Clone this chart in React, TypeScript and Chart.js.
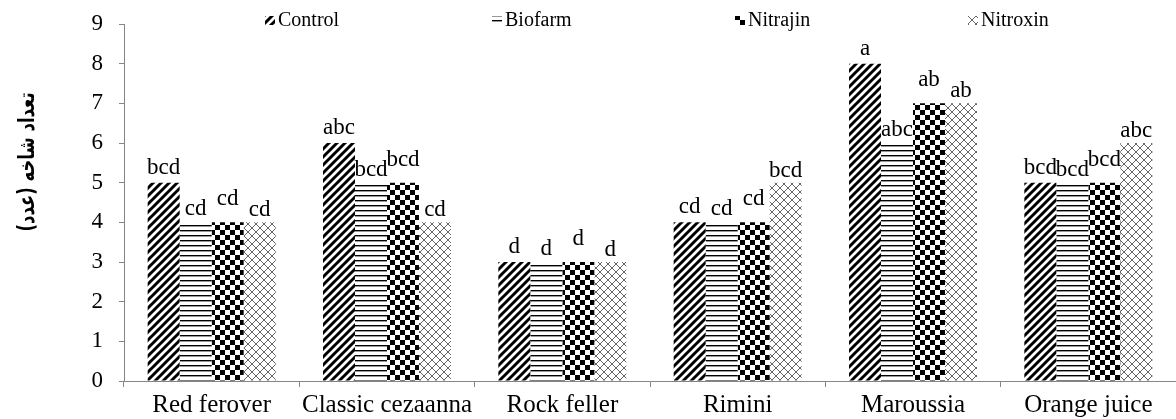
import React, { useEffect, useRef } from "react";
import { Chart, registerables } from "chart.js";

Chart.register(...registerables);

const categories = ["Red ferover", "Classic cezaanna", "Rock feller", "Rimini", "Maroussia", "Orange juice"];
const seriesNames = ["Control", "Biofarm", "Nitrajin", "Nitroxin"];

const controlValues = [5, 6, 3, 4, 8, 5];
const biofarmValues = [4, 5, 3, 4, 6, 5];
const nitrajinValues = [4, 5, 3, 4, 7, 5];
const nitroxinValues = [4, 4, 3, 5, 7, 6];

const controlLetters = ["bcd", "abc", "d", "cd", "a", "bcd"];
const biofarmLetters = ["cd", "bcd", "d", "cd", "abc", "bcd"];
const nitrajinLetters = ["cd", "bcd", "d", "cd", "ab", "bcd"];
const nitroxinLetters = ["cd", "cd", "d", "bcd", "ab", "abc"];

const yTicks = [0, 1, 2, 3, 4, 5, 6, 7, 8, 9];
const yTitle = "تعداد شاخه (عدد)";

const SERIF = '"Liberation Serif", "Times New Roman", serif';

function makeTile(w: number, h: number, draw: (c: CanvasRenderingContext2D) => void): CanvasPattern {
  const cv = document.createElement("canvas");
  cv.width = w;
  cv.height = h;
  const c = cv.getContext("2d")!;
  c.fillStyle = "#fff";
  c.fillRect(0, 0, w, h);
  draw(c);
  const tmp = document.createElement("canvas").getContext("2d")!;
  return tmp.createPattern(cv, "repeat")!;
}

function diagPattern(): CanvasPattern {
  const s = 8;
  return makeTile(s, s, (c) => {
    c.strokeStyle = "#000";
    c.lineWidth = 3;
    c.beginPath();
    for (const k of [0, s, 2 * s]) {
      c.moveTo(k + 1, -1);
      c.lineTo(k - s - 1, s + 1);
    }
    c.stroke();
  });
}

function horizPattern(): CanvasPattern {
  return makeTile(4, 5, (c) => {
    c.fillStyle = "#000";
    c.fillRect(0, 0, 4, 1);
    c.fillStyle = "#999";
    c.fillRect(0, 1, 4, 1);
  });
}

function checkerPattern(): CanvasPattern {
  return makeTile(10, 10, (c) => {
    c.fillStyle = "#000";
    c.fillRect(0, 0, 5, 5);
    c.fillRect(5, 5, 5, 5);
  });
}

function crossPattern(): CanvasPattern {
  const s = 8;
  return makeTile(s, s, (c) => {
    c.strokeStyle = "#666";
    c.lineWidth = 1;
    c.beginPath();
    for (const k of [0, s, 2 * s]) {
      c.moveTo(k + 1, -1);
      c.lineTo(k - s - 1, s + 1);
      c.moveTo(k - s - 1, -1);
      c.lineTo(k + 1, s + 1);
    }
    c.stroke();
  });
}

export default function App() {
  const ref = useRef<HTMLCanvasElement | null>(null);

  useEffect(() => {
    document.body.style.margin = "0";
    const canvas = ref.current!;
    const patterns = [diagPattern(), horizPattern(), checkerPattern(), crossPattern()];
    const values = [controlValues, biofarmValues, nitrajinValues, nitroxinValues];
    const letters = [controlLetters, biofarmLetters, nitrajinLetters, nitroxinLetters];
    const labelRaise = [9, 7, 17, 6];
    const legendTextX = [278, 505, 748, 981];

    const overlay = {
      id: "overlay",
      afterDatasetsDraw(chart: any) {
        const ctx = chart.ctx as CanvasRenderingContext2D;
        ctx.save();
        ctx.fillStyle = "#000";
        ctx.font = `23px ${SERIF}`;
        ctx.textAlign = "center";
        ctx.textBaseline = "alphabetic";
        chart.data.datasets.forEach((ds: any, di: number) => {
          const meta = chart.getDatasetMeta(di);
          meta.data.forEach((bar: any, i: number) => {
            ctx.fillText(letters[di][i], bar.x, bar.y - labelRaise[di]);
          });
        });
        ctx.restore();
      },
      afterDraw(chart: any) {
        const ctx = chart.ctx as CanvasRenderingContext2D;
        ctx.save();
        // legend
        ctx.font = `20px ${SERIF}`;
        ctx.textBaseline = "middle";
        ctx.textAlign = "left";
        seriesNames.forEach((name, i) => {
          const x = legendTextX[i];
          ctx.fillStyle = patterns[i];
          ctx.fillRect(x - 13, 16, 10, 9);
          ctx.fillStyle = "#000";
          ctx.fillText(name, x, 21);
        });
        // y title
        ctx.translate(28, 162);
        ctx.rotate(-Math.PI / 2);
        ctx.scale(0.97, 1.3);
        ctx.font = `bold 17px "DejaVu Sans", "Noto Sans", sans-serif`;
        ctx.textAlign = "center";
        ctx.textBaseline = "middle";
        ctx.fillStyle = "#000";
        ctx.fillText(yTitle, 0, 0);
        ctx.restore();
      },
    };

    const chart = new Chart(canvas, {
      type: "bar",
      data: {
        labels: categories,
        datasets: seriesNames.map((name, i) => ({
          label: name,
          data: values[i],
          backgroundColor: patterns[i],
          borderWidth: 0,
          categoryPercentage: 0.73,
          barPercentage: 1.0,
        })),
      },
      options: {
        animation: false,
        responsive: false,
        maintainAspectRatio: false,
        layout: { padding: { top: 24, left: 0, right: 0, bottom: 0 } },
        plugins: {
          legend: { display: false },
          tooltip: { enabled: false },
          title: { display: false },
        },
        scales: {
          x: {
            offset: true,
            grid: {
              offset: true,
              drawOnChartArea: false,
              drawTicks: true,
              tickLength: 6,
              color: "#868686",
            },
            border: { color: "#868686", width: 1 },
            ticks: {
              color: "#000",
              font: { family: SERIF, size: 25 },
              padding: 3,
              maxRotation: 0,
              autoSkip: false,
            },
            afterFit: (scale: any) => {
              scale.height = 38;
              scale.paddingLeft = 0;
              scale.paddingRight = 0;
            },
          },
          y: {
            min: 0,
            max: 9,
            afterBuildTicks: (scale: any) => {
              scale.ticks = yTicks.map((v) => ({ value: v }));
            },
            grid: {
              drawOnChartArea: false,
              drawTicks: true,
              tickLength: 5,
              color: "#868686",
            },
            border: { color: "#868686", width: 1 },
            ticks: {
              color: "#000",
              font: { family: SERIF, size: 23 },
              padding: 16,
            },
            afterFit: (scale: any) => {
              scale.width = 124;
              scale.paddingTop = 0;
              scale.paddingBottom = 0;
            },
          },
        },
      },
      plugins: [overlay],
    });
    return () => chart.destroy();
  }, []);

  return (
    <div style={{ width: 1176, height: 419 }}>
      <canvas ref={ref} width={1176} height={419} style={{ display: "block" }} />
    </div>
  );
}
